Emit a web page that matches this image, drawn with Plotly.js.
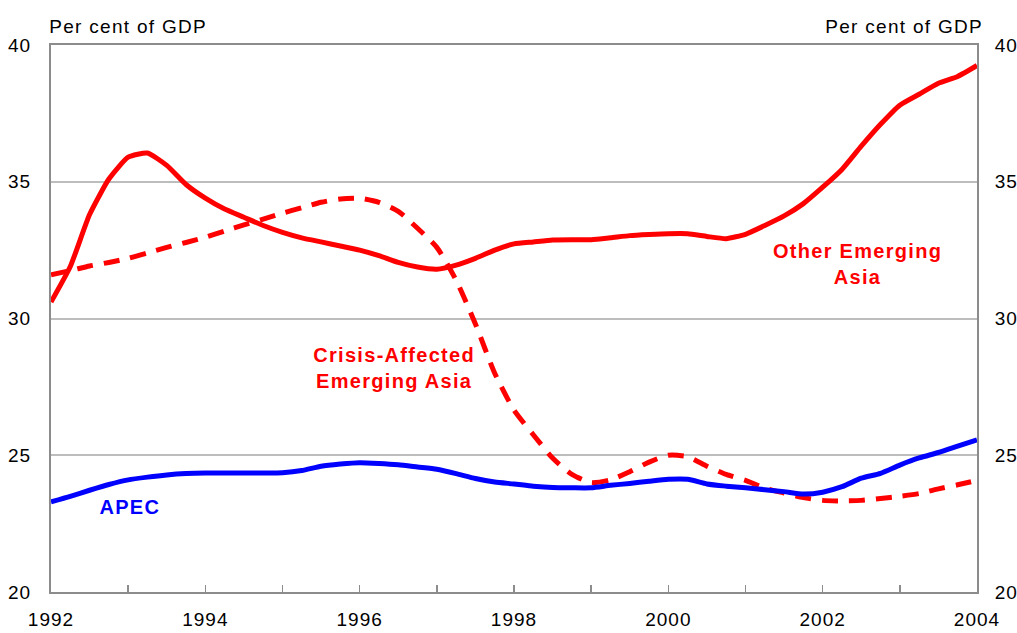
<!DOCTYPE html>
<html>
<head>
<meta charset="utf-8">
<script src="https://cdn.plot.ly/plotly-3.0.1.min.js"></script>
<style>
html,body{margin:0;padding:0;background:#fff;}
#chart{width:1017px;height:633px;}
#chart .annotation-text{letter-spacing:1.3px;}
#chart .xtick text, #chart .ytick text, #chart .y2tick text{letter-spacing:1px;}
</style>
</head>
<body>
<div id="chart"></div>
<script>
// Quarterly time points 1992.00 ... 2004.00
const years = [1992,1992.25,1992.5,1992.75,1993,1993.25,1993.5,1993.75,1994,1994.25,1994.5,1994.75,
  1995,1995.25,1995.5,1995.75,1996,1996.25,1996.5,1996.75,1997,1997.25,1997.5,1997.75,
  1998,1998.25,1998.5,1998.75,1999,1999.25,1999.5,1999.75,2000,2000.25,2000.5,2000.75,
  2001,2001.25,2001.5,2001.75,2002,2002.25,2002.5,2002.75,2003,2003.25,2003.5,2003.75,2004];

const otherEmergingAsia = [30.6,31.9,33.8,35.1,35.9,36.05,35.6,34.9,34.4,34.0,33.7,33.4,
  33.15,32.95,32.8,32.65,32.5,32.3,32.05,31.88,31.8,31.95,32.2,32.5,
  32.73,32.8,32.87,32.88,32.88,32.95,33.03,33.07,33.1,33.1,33.0,32.92,
  33.08,33.4,33.75,34.2,34.8,35.45,36.3,37.1,37.8,38.2,38.6,38.85,39.25];

const crisisAffectedAsia = [31.6,31.75,31.92,32.05,32.2,32.4,32.6,32.78,32.97,33.2,33.42,33.63,
  33.85,34.05,34.25,34.37,34.4,34.25,33.92,33.3,32.6,31.4,29.8,28.0,
  26.65,25.75,24.9,24.3,24.0,24.1,24.4,24.75,25.0,24.95,24.6,24.3,
  24.08,23.8,23.62,23.45,23.35,23.33,23.35,23.42,23.5,23.6,23.77,23.92,24.08];

const apec = [23.3,23.5,23.72,23.93,24.1,24.2,24.28,24.33,24.35,24.35,24.35,24.35,
  24.36,24.44,24.6,24.68,24.73,24.7,24.65,24.57,24.49,24.33,24.15,24.02,
  23.95,23.87,23.82,23.81,23.81,23.9,23.97,24.05,24.12,24.12,23.95,23.87,
  23.81,23.74,23.67,23.58,23.65,23.85,24.16,24.34,24.64,24.9,25.1,25.33,25.56];

const xTickVals = [1992,1994,1996,1998,2000,2002,2004];
const xTickText = ['1992','1994','1996','1998','2000','2002','2004'];
const yTickVals = [20,25,30,35,40];

const axisColor = '#8c8c8c';
const gridColor = '#bdbdbd';
const fontFam = 'Arial, "Liberation Sans", sans-serif';

const traces = [
  {x: years, y: crisisAffectedAsia, type: 'scatter', mode: 'lines', name: 'Crisis-Affected Emerging Asia',
   line: {color: '#ff0000', width: 5, dash: '16px,11px', shape: 'spline', smoothing: 0.6}, hoverinfo: 'skip'},
  {x: years, y: otherEmergingAsia, type: 'scatter', mode: 'lines', name: 'Other Emerging Asia',
   line: {color: '#ff0000', width: 5, shape: 'spline', smoothing: 0.5}, hoverinfo: 'skip'},
  {x: years, y: apec, type: 'scatter', mode: 'lines', name: 'APEC', yaxis: 'y2',
   line: {color: '#0000ff', width: 5, shape: 'spline', smoothing: 0.6}, hoverinfo: 'skip'}
];

const layout = {
  width: 1017, height: 633,
  margin: {l: 51, r: 40, t: 45, b: 41},
  paper_bgcolor: '#ffffff', plot_bgcolor: '#ffffff',
  showlegend: false,
  font: {family: fontFam, size: 19, color: '#000'},
  xaxis: {
    range: [1992, 2004], tickvals: xTickVals, ticktext: xTickText,
    ticks: 'inside', ticklen: 7, tickwidth: 1.5, tickcolor: axisColor,
    minor: {dtick: 1, tick0: 1992, ticks: 'inside', ticklen: 7, tickwidth: 1.5, tickcolor: axisColor, showgrid: false},
    showgrid: false, zeroline: false,
    showline: true, linecolor: axisColor, linewidth: 2, mirror: true,
    ticklabelstandoff: 9,
    tickfont: {family: fontFam, size: 19, color: '#000'}
  },
  yaxis: {
    range: [20, 40], tickvals: yTickVals, ticks: '',
    showgrid: true, gridcolor: gridColor, gridwidth: 2, zeroline: false,
    showline: true, linecolor: axisColor, linewidth: 2,
    ticklabelstandoff: 14,
    tickfont: {family: fontFam, size: 19, color: '#000'}
  },
  yaxis2: {
    range: [20, 40], tickvals: yTickVals, overlaying: 'y', side: 'right', ticks: '',
    showgrid: false, zeroline: false,
    showline: true, linecolor: axisColor, linewidth: 2,
    ticklabelstandoff: 12,
    tickfont: {family: fontFam, size: 19, color: '#000'}
  },
  annotations: [
    {text: 'Per cent of GDP', xref: 'paper', yref: 'paper', x: 0, y: 1, xanchor: 'left', yanchor: 'bottom',
     xshift: 6, yshift: 6, showarrow: false, font: {family: fontFam, size: 19, color: '#000'}},
    {text: 'Per cent of GDP', xref: 'paper', yref: 'paper', x: 1, y: 1, xanchor: 'right', yanchor: 'bottom',
     xshift: -2, yshift: 6, showarrow: false, font: {family: fontFam, size: 19, color: '#000'}},
    {text: '<b>Other Emerging</b><br><b>Asia</b>', xref: 'x', yref: 'y', x: 2002.45, y: 32.0,
     showarrow: false, align: 'center', font: {family: fontFam, size: 20, color: '#ff0000'}},
    {text: '<b>Crisis-Affected</b><br><b>Emerging Asia</b>', xref: 'x', yref: 'y', x: 1996.45, y: 28.2,
     showarrow: false, align: 'center', font: {family: fontFam, size: 20, color: '#ff0000'}},
    {text: '<b>APEC</b>', xref: 'x', yref: 'y', x: 1993.02, y: 23.12,
     showarrow: false, align: 'center', font: {family: fontFam, size: 20, color: '#0000ff'}}
  ]
};

Plotly.newPlot('chart', traces, layout, {staticPlot: true, displayModeBar: false});
</script>
</body>
</html>
